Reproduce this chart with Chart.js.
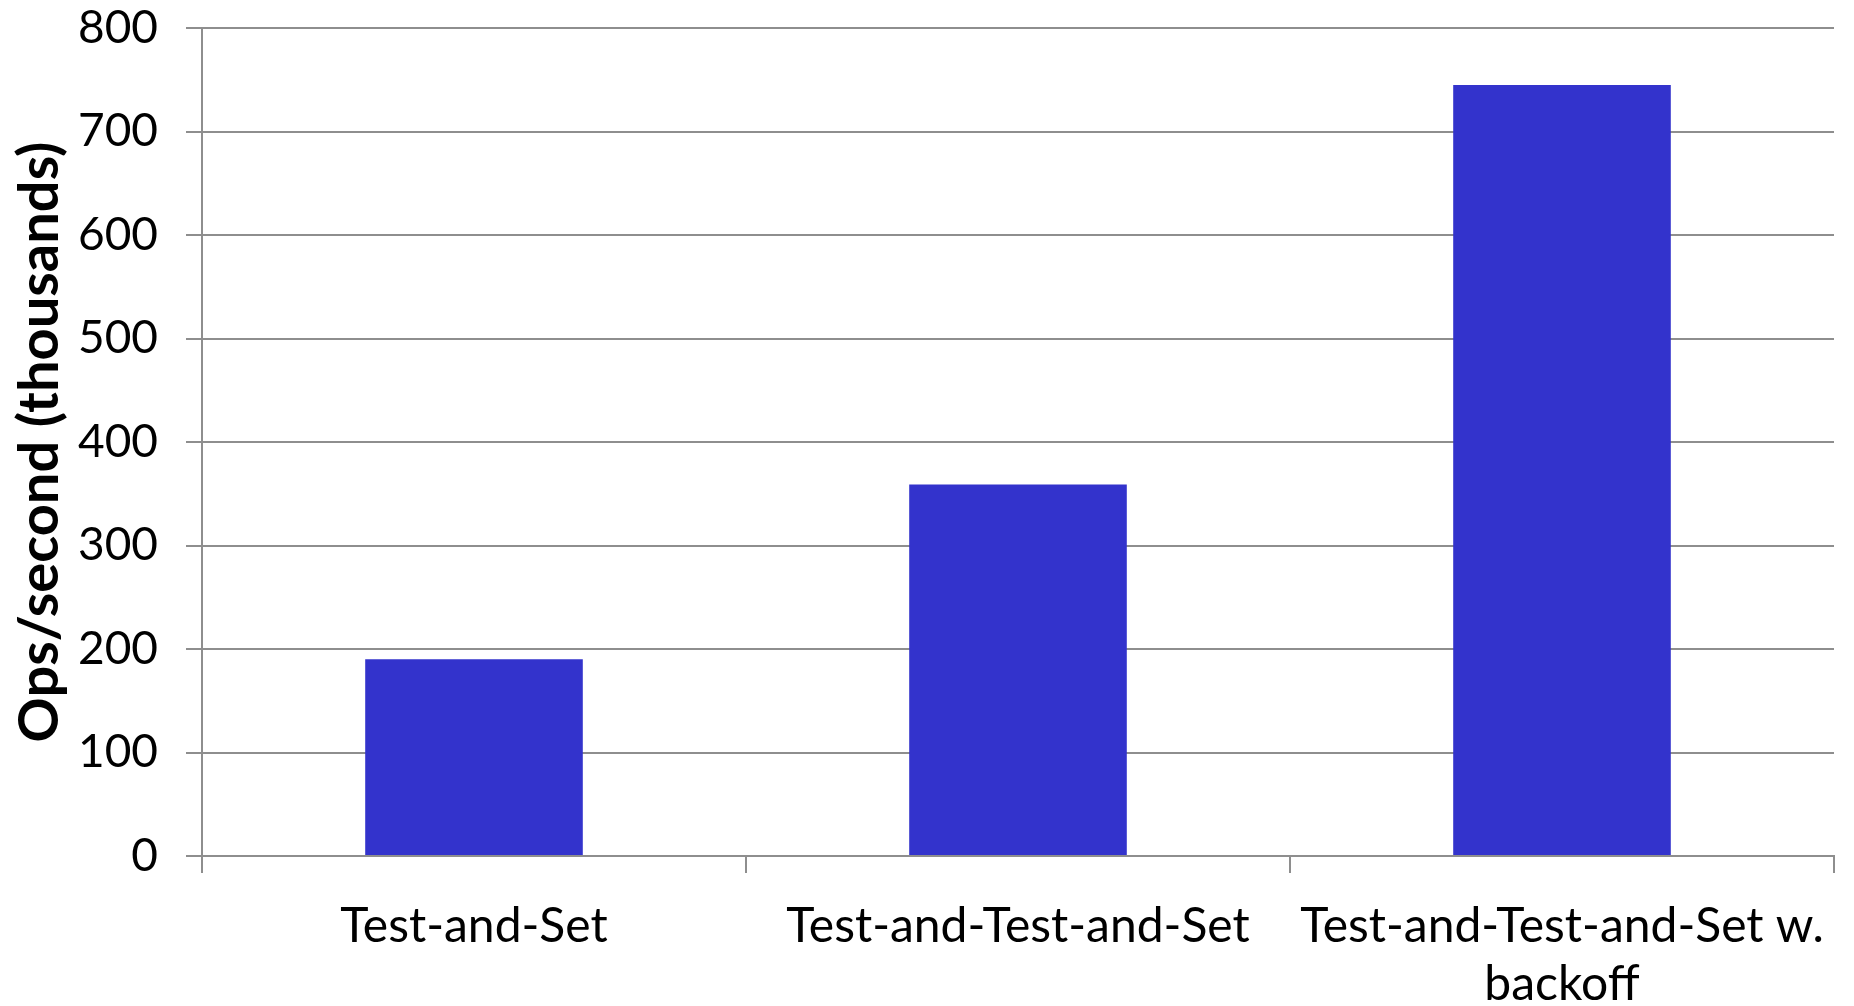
<!DOCTYPE html>
<html>
<head>
<meta charset="utf-8">
<script src="https://cdn.jsdelivr.net/npm/chart.js@4.4.0/dist/chart.umd.min.js"></script>
<style>
  html, body { margin: 0; padding: 0; background: #fff; }
  #wrap { width: 1854px; height: 1006px; }
</style>
</head>
<body>
<div id="wrap"><canvas id="ops"></canvas></div>
<script>
// lock flavours and their throughput
const lockNames = [
  "Test-and-Set",
  "Test-and-Test-and-Set",
  ["Test-and-Test-and-Set w.", "backoff"]
];
const opsPerSec = [190, 359, 745];
const yTicks = [0, 100, 200, 300, 400, 500, 600, 700, 800];

const gridGray = "#8e8e8e";
Chart.defaults.font.family = "Lato, 'Open Sans', sans-serif";
Chart.defaults.color = "#000";

const ctx = document.getElementById("ops").getContext("2d");

let opsChart = new Chart(ctx, {
  type: "bar",
  data: {
    labels: lockNames,
    datasets: [{
      label: "Ops/second",
      data: opsPerSec,
      backgroundColor: "#3333cc",
      borderWidth: 0,
      categoryPercentage: 1,
      barPercentage: 0.4
    }]
  },
  options: {
    responsive: true,
    maintainAspectRatio: false,
    animation: false,
    layout: {
      padding: { top: 28, right: 20, left: 6, bottom: 0 }
    },
    plugins: {
      legend: { display: false },
      tooltip: { enabled: false }
    },
    scales: {
      y: {
        min: 0,
        max: 800,
        afterBuildTicks: (scale) => {
          scale.ticks = yTicks.map((v) => ({ value: v }));
        },
        afterFit: (scale) => {
          scale.width = 196;
          // let the top label hang over the padding
          scale.paddingTop = 0;
          scale.paddingBottom = 0;
        },
        ticks: {
          font: { size: 46 },
          padding: 28
        },
        grid: {
          color: gridGray,
          lineWidth: 2,
          tickLength: 16
        },
        border: { color: gridGray, width: 2 },
        title: {
          display: true,
          text: "Ops/second (thousands)",
          font: { size: 56, weight: "bold" },
          padding: 0
        }
      },
      x: {
        afterFit: (scale) => {
          scale.height = 150;
        },
        ticks: {
          font: { size: 48, lineHeight: 1.22 },
          padding: 24,
          maxRotation: 0,
          autoSkip: false
        },
        grid: {
          color: gridGray,
          lineWidth: 2,
          drawOnChartArea: false,
          tickLength: 17
        },
        border: { color: gridGray, width: 2 }
      }
    }
  }
});
</script>
</body>
</html>
